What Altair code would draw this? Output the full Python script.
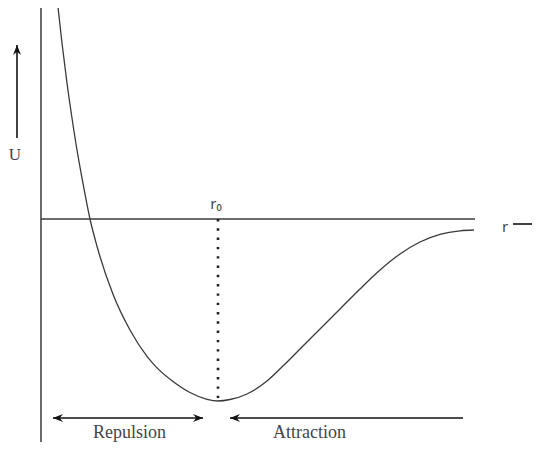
import altair as alt
import pandas as pd

# Potential-energy curve U(r) (r in units of r0, U in units of the well depth)
curve_r = [0.0960, 0.1186, 0.1469, 0.1751, 0.2034, 0.2316, 0.2768, 0.3164, 0.4068,
           0.5028, 0.5989, 0.6554, 0.7458, 0.8418, 0.9379, 1.0,
           1.0678, 1.1638, 1.2768, 1.3785, 1.4633, 1.5763, 1.6893, 1.8023,
           1.9153, 2.0282, 2.1412, 2.2542, 2.3672, 2.4463]
curve_U = [1.1648, 0.9670, 0.7473, 0.5549, 0.3791, 0.2253, 0.0, -0.1500, -0.4137,
           -0.6099, -0.7547, -0.8179, -0.8926, -0.9533, -0.9907, -1.0,
           -0.9918, -0.9615, -0.8901, -0.7967, -0.7143, -0.6044, -0.4945, -0.3846,
           -0.2802, -0.1923, -0.1264, -0.0846, -0.0648, -0.0604]

# Reference lines
zero_line_r = [0.0, 2.4520]
r0 = 1.0
U_min = -1.0

# Arrows: (x1, y1, x2, y2)
arrow_names = ["Repulsion", "Attraction", "U axis", "r axis"]
arrow_r1 = [0.0678, 2.3842, -0.1356, 2.6667]
arrow_U1 = [-1.0934, -1.0934, 0.4451, -0.0275]
arrow_r2 = [0.9153, 1.0678, -0.1356, 2.80]
arrow_U2 = [-1.0934, -1.0934, 0.9560, -0.0275]

# Arrow heads
head_r = [0.0678, 0.9153, 1.0678, -0.1356]
head_U = [-1.0934, -1.0934, -1.0934, 0.9560]
head_angle = [180, 0, 180, 270]

# Labels
label_text = ["Repulsion", "Attraction"]
label_r = [0.5, 1.5169]
label_U = [-1.2033, -1.2033]

XDOM = [-0.1864, 2.7740]
YDOM = [-1.2253, 1.1593]

xs = alt.Scale(domain=XDOM, nice=False, zero=False)
ys = alt.Scale(domain=YDOM, nice=False, zero=False)

LINE = "#3a3a3a"
TEXT = "#454545"

curve_df = pd.DataFrame({"r": curve_r, "U": curve_U})
curve = alt.Chart(curve_df).mark_line(
    color=LINE, strokeWidth=1.3, interpolate="monotone", clip=True
).encode(x=alt.X("r:Q", scale=xs, axis=None), y=alt.Y("U:Q", scale=ys, axis=None))

zero_df = pd.DataFrame({"r1": [zero_line_r[0]], "r2": [zero_line_r[1]], "U": [0.0]})
zero_rule = alt.Chart(zero_df).mark_rule(color=LINE, strokeWidth=1.5).encode(
    x=alt.X("r1:Q", scale=xs, axis=None), x2="r2:Q", y=alt.Y("U:Q", scale=ys, axis=None)
)

vaxis_df = pd.DataFrame({"r": [0.0], "U1": [YDOM[0]], "U2": [1.165]})
vaxis = alt.Chart(vaxis_df).mark_rule(color=LINE, strokeWidth=1.5, clip=True).encode(
    x=alt.X("r:Q", scale=xs, axis=None), y=alt.Y("U1:Q", scale=ys, axis=None), y2="U2:Q"
)

dot_df = pd.DataFrame({"r": [r0], "U1": [0.0], "U2": [U_min]})
dotted = alt.Chart(dot_df).mark_rule(
    color="#222222", strokeWidth=2.6, strokeDash=[2.4, 6.9]
).encode(x=alt.X("r:Q", scale=xs, axis=None), y=alt.Y("U1:Q", scale=ys, axis=None), y2="U2:Q")

arrow_df = pd.DataFrame({"name": arrow_names, "r1": arrow_r1, "U1": arrow_U1,
                         "r2": arrow_r2, "U2": arrow_U2})
arrows = alt.Chart(arrow_df).mark_rule(color="#111111", strokeWidth=1.6, clip=True).encode(
    x=alt.X("r1:Q", scale=xs, axis=None), x2="r2:Q",
    y=alt.Y("U1:Q", scale=ys, axis=None), y2="U2:Q"
)

head_df = pd.DataFrame({"r": head_r, "U": head_U, "angle": head_angle})
heads = alt.Chart(head_df).mark_point(
    shape="M0,0L-2,-0.8L-1.35,0L-2,0.8Z", size=100, filled=True, color="#111111", opacity=1
).encode(
    x=alt.X("r:Q", scale=xs, axis=None), y=alt.Y("U:Q", scale=ys, axis=None),
    angle=alt.Angle("angle:Q", scale=None)
)

label_df = pd.DataFrame({"t": label_text, "r": label_r, "U": label_U})
labels = alt.Chart(label_df).mark_text(
    font="Liberation Serif", fontSize=18, color=TEXT, align="center", baseline="alphabetic"
).encode(x=alt.X("r:Q", scale=xs, axis=None), y=alt.Y("U:Q", scale=ys, axis=None), text="t:N")

u_df = pd.DataFrame({"t": ["U"], "r": [-0.1469], "U": [0.3516]})
u_label = alt.Chart(u_df).mark_text(
    font="Liberation Serif", fontSize=17, color=TEXT, align="center", baseline="middle"
).encode(x=alt.X("r:Q", scale=xs, axis=None), y=alt.Y("U:Q", scale=ys, axis=None), text="t:N")

sans_df = pd.DataFrame({"t": ["r₀", "r"], "r": [0.9887, 2.6215], "U": [0.0824, -0.044]})
sans_labels = alt.Chart(sans_df).mark_text(
    font="Noto Sans", fontSize=15, color=TEXT, align="center", baseline="middle"
).encode(x=alt.X("r:Q", scale=xs, axis=None), y=alt.Y("U:Q", scale=ys, axis=None), text="t:N")

chart = alt.layer(
    vaxis, zero_rule, dotted, curve, arrows, heads, labels, u_label, sans_labels
).properties(
    width=524, height=434, padding=0,
    autosize=alt.AutoSizeParams(type="none"),
    background="white",
).configure_view(strokeWidth=0)

chart.save("out.html", embed_options={"renderer": "svg", "actions": False})
